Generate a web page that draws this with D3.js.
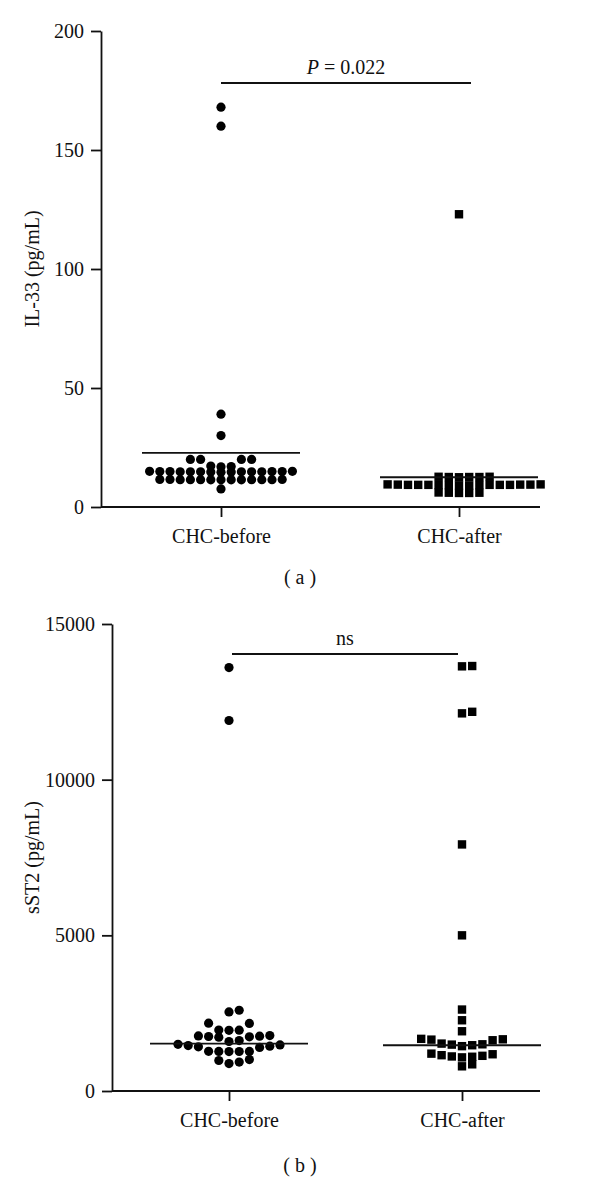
<!DOCTYPE html>
<html lang="en">
<head>
<meta charset="UTF-8">
<title>IL-33 and sST2</title>
<script src="https://cdn.jsdelivr.net/npm/d3@7"></script>
<style>
  body { margin: 0; background: #fff; }
  svg text { font-family: "Liberation Serif", "DejaVu Serif", serif; fill: #111; }
  .axis path, .axis line { stroke: #111; stroke-width: 1.8; }
</style>
</head>
<body>
<div id="chart"></div>
<script>
// categories
var groups = ["CHC-before", "CHC-after"];

// panel (a) IL-33, pg/mL
var il33Before = [168, 160, 39, 30,
  20, 20, 20, 20, 17.2, 17.0, 16.9,
  15.0, 14.9, 14.9, 14.8, 14.8, 14.8, 14.7, 14.8, 14.9, 15.0, 14.8, 14.7, 14.9, 14.8, 14.6,
  11.6, 11.5, 11.5, 11.4, 11.5, 11.4, 11.6, 11.5, 11.4, 11.5, 11.5, 11.6, 11.4,
  7.6];
var il33After = [123,
  12.6, 12.7, 12.5, 12.6, 12.7, 12.6,
  9.3, 9.2, 9.4, 9.3, 9.1, 9.5, 9.3, 9.2, 9.4, 9.3, 9.1, 9.5, 9.2, 9.4, 9.3, 9.3,
  6.0, 5.9, 6.1, 6.0, 5.9];
var il33Lines = [22.7, 12.5];
var il33Ticks = [0, 50, 100, 150, 200];

// panel (b) sST2, pg/mL
var sst2Before = [13600, 11900, 2594, 2540,
  2180, 2170, 1960, 1955, 1950,
  1780, 1770, 1760, 1750, 1740, 1730, 1620, 1590,
  1500, 1480, 1460, 1440, 1420, 1400, 1275, 1272, 1270, 1268, 1265,
  1010, 980, 930, 880];
var sst2After = [13650, 13640, 12180, 12130, 7920, 5000, 2616, 2272, 1919,
  1675, 1660, 1650, 1630, 1523, 1500, 1490, 1470, 1440,
  1200, 1180, 1150, 1130, 1110, 1100, 1080,
  857, 793];
var sst2Lines = [1520, 1470];
var sst2Ticks = [0, 5000, 10000, 15000];

var w = 600, h = 1181;
var fs = "20px";

var svg = d3.select("#chart").append("svg")
  .attr("width", w)
  .attr("height", h);

// column scatter: points close in y share a row, spread 0,+1,-1,+2,-2...
function spread(values, y, rowH) {
  var sorted = values.slice().sort(function(a, b) { return b - a; });
  var rows = [], cur = null;
  sorted.forEach(function(v) {
    if (cur && y(v) - y(cur[0]) < rowH) cur.push(v);
    else { cur = [v]; rows.push(cur); }
  });
  var out = [];
  rows.forEach(function(r) {
    r.slice().sort(function(a, b) { return a - b; }).forEach(function(v, i) {
      var k = Math.ceil(i / 2) * (i % 2 ? 1 : -1);
      out.push({ v: v, k: k });
    });
  });
  return out;
}

function panel(cfg) {
  var g = svg.append("g");

  var y = d3.scaleLinear().domain(cfg.domain).range([cfg.y0, cfg.y1]);
  var x = d3.scalePoint().domain(groups).range(cfg.xs);

  // y axis
  g.append("g")
    .attr("class", "axis")
    .attr("transform", "translate(" + cfg.x0 + ",0)")
    .call(d3.axisLeft(y).tickValues(cfg.ticks).tickFormat(d3.format("d"))
      .tickSize(10).tickPadding(7).tickSizeOuter(0))
    .call(function(a) { a.selectAll("text").attr("font-size", fs); });

  // x axis
  var xa = g.append("g")
    .attr("class", "axis")
    .attr("transform", "translate(0," + cfg.y0 + ")")
    .call(d3.axisBottom(x).tickSize(10).tickPadding(12).tickSizeOuter(0));
  xa.select(".domain").attr("d", "M" + cfg.x0 + ",0H" + cfg.x1);
  xa.selectAll("text").attr("font-size", fs);

  // y title
  g.append("text")
    .attr("transform", "translate(" + cfg.titleX + "," + ((cfg.y0 + cfg.y1) / 2) + ") rotate(-90)")
    .attr("text-anchor", "middle")
    .attr("font-size", fs)
    .text(cfg.title);

  var sp = 10.2;
  // before: circles
  g.selectAll(".dot")
    .data(spread(cfg.before, y, 7.5))
    .enter().append("circle")
    .attr("cx", function(d) { return x(groups[0]) + d.k * sp; })
    .attr("cy", function(d) { return y(d.v); })
    .attr("r", 4.6)
    .attr("fill", "#000");

  // after: squares
  var s = 8.4;
  g.selectAll(".sq")
    .data(spread(cfg.after, y, 7.5))
    .enter().append("rect")
    .attr("x", function(d) { return x(groups[1]) + d.k * sp - s / 2; })
    .attr("y", function(d) { return y(d.v) - s / 2; })
    .attr("width", s)
    .attr("height", s)
    .attr("fill", "#000");

  // centre lines
  g.selectAll(".mid")
    .data(cfg.lines)
    .enter().append("line")
    .attr("x1", function(d, i) { return x(groups[i]) - 79; })
    .attr("x2", function(d, i) { return x(groups[i]) + 79; })
    .attr("y1", function(d) { return y(d); })
    .attr("y2", function(d) { return y(d); })
    .attr("stroke", "#111")
    .attr("stroke-width", 1.8);

  // comparison bar
  g.append("line")
    .attr("x1", cfg.bar[0]).attr("x2", cfg.bar[1])
    .attr("y1", cfg.barY).attr("y2", cfg.barY)
    .attr("stroke", "#111")
    .attr("stroke-width", 1.8);
  var lab = g.append("text")
    .attr("x", (cfg.bar[0] + cfg.bar[1]) / 2)
    .attr("y", cfg.barY - 9)
    .attr("text-anchor", "middle")
    .attr("font-size", fs);
  cfg.label(lab);

  // panel letter
  g.append("text")
    .attr("x", 300)
    .attr("y", cfg.letterY)
    .attr("text-anchor", "middle")
    .attr("font-size", fs)
    .attr("xml:space", "preserve")
    .text(cfg.letter);
}

panel({
  before: il33Before, after: il33After, lines: il33Lines, ticks: il33Ticks,
  domain: [0, 200], y0: 507, y1: 31, x0: 101, x1: 540, xs: [221, 459],
  title: "IL-33 (pg/mL)", titleX: 39,
  bar: [221, 471], barY: 83,
  label: function(t) {
    t.append("tspan").attr("font-style", "italic").text("P");
    t.append("tspan").text(" = 0.022");
  },
  letter: "( a )", letterY: 584
});

panel({
  before: sst2Before, after: sst2After, lines: sst2Lines, ticks: sst2Ticks,
  domain: [0, 15000], y0: 1091, y1: 624, x0: 112, x1: 540, xs: [229, 462],
  title: "sST2 (pg/mL)", titleX: 39,
  bar: [232, 458], barY: 654,
  label: function(t) { t.text("ns"); },
  letter: "( b )", letterY: 1172
});
</script>
</body>
</html>
